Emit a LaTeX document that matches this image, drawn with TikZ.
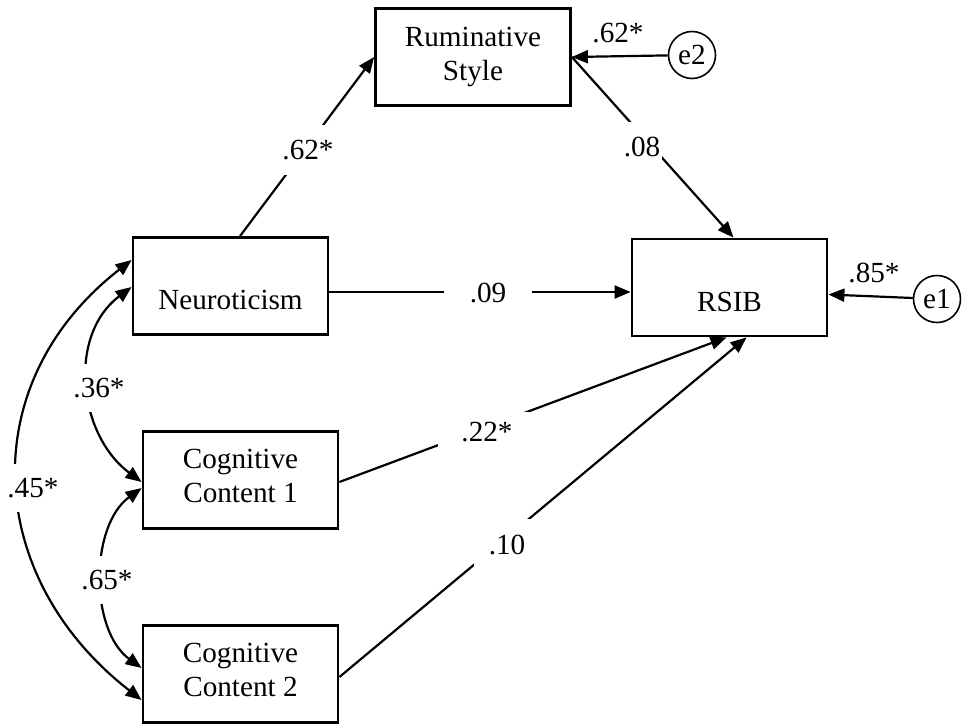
\documentclass[tikz,border=0pt]{standalone}
\usepackage{fontspec}
\setmainfont{Liberation Serif}
\usetikzlibrary{arrows.meta,calc}
\begin{document}
\begin{tikzpicture}[x=0.5pt,y=-0.5pt,
  every node/.style={font=\fontsize{14.6}{17}\selectfont},
  box/.style={draw, line width=1.4pt, minimum width=97.5pt, minimum height=48.5pt, inner sep=0pt, align=center},
  err/.style={draw, circle, line width=0.8pt, minimum size=23.5pt, inner sep=0pt},
  arr/.style={line width=1.1pt, -{Triangle[length=8pt,width=6.5pt]}},
  cov/.style={line width=1.1pt, {Triangle[length=8pt,width=6.5pt]}-{Triangle[length=8pt,width=6.5pt]}},
  lbl/.style={fill=white, inner xsep=1pt, inner ysep=7pt},
  coef/.style={inner sep=0pt}
]
\useasboundingbox (0,0) rectangle (967,724);
% boxes
\node[box] (rum) at (473,57) {Ruminative\\Style};
\node[box, label={[yshift=-7pt]center:Neuroticism}] (neur) at (230.5,286) {};
\node[box, label={[yshift=-7pt]center:RSIB}] (rsib) at (729.5,287.5) {};
\node[box, label={[align=center, yshift=2pt]center:{Cognitive\\Content 1}}] (cc1) at (240.5,480) {};
\node[box, label={[align=center, yshift=2pt]center:{Cognitive\\Content 2}}] (cc2) at (240.5,674) {};
\node[err] (e2) at (692,55) {e2};
\node[err] (e1) at (937,299) {e1};
% paths
\draw[arr] ($(neur.north)+(9.5,0)$) -- (rum.west);
\draw[arr] (rum.east) -- ($(rsib.north)+(4,0)$);
\draw[arr] (e2) -- (rum.east);
\draw[arr] ($(neur.east)+(0,6)$) -- ($(rsib.west)+(0,4.5)$);
\draw[arr] (e1) -- ($(rsib.east)+(0,7)$);
\draw[arr] ($(cc1.east)+(0,2)$) -- ($(rsib.south)+(-3,0)$);
\draw[arr] ($(cc2.east)+(0,3)$) -- ($(rsib.south)+(17,0)$);
% covariances
\draw[cov] ($(neur.west)+(0,-26)$) .. controls +(-158,123) and +(-158,-123) .. ($(cc2.west)+(0,26)$);
\draw[cov] ($(neur.west)+(0,1)$) .. controls +(-64,48) and +(-64,-48) .. ($(cc1.west)+(0,2)$);
\draw[cov] ($(cc1.west)+(0,8)$) .. controls +(-52,38) and +(-52,-38) .. ($(cc2.west)+(0,-6)$);
% coefficients
\node[coef] (c1) at (618,33) {.62*};
\node[coef] (c2) at (874,273) {.85*};
\node[lbl, inner xsep=1pt, inner ysep=7.75pt] (c3) at (308,150) {.62*};
\node[lbl, inner ysep=7.75pt] (c4) at (642,147) {.08};
\node[lbl, inner xsep=13pt, inner ysep=2pt] (c5) at (488,293) {.09};
\node[lbl, inner xsep=11.75pt, inner ysep=5pt] (c6) at (487,432) {.22*};
\node[lbl, inner xsep=7.5pt, inner ysep=8pt] (c7) at (507,545) {.10};
\node[lbl] (c8) at (99,388) {.36*};
\node[lbl] (c9) at (33,488) {.45*};
\node[lbl] (c10) at (107,580) {.65*};
\end{tikzpicture}
\end{document}
